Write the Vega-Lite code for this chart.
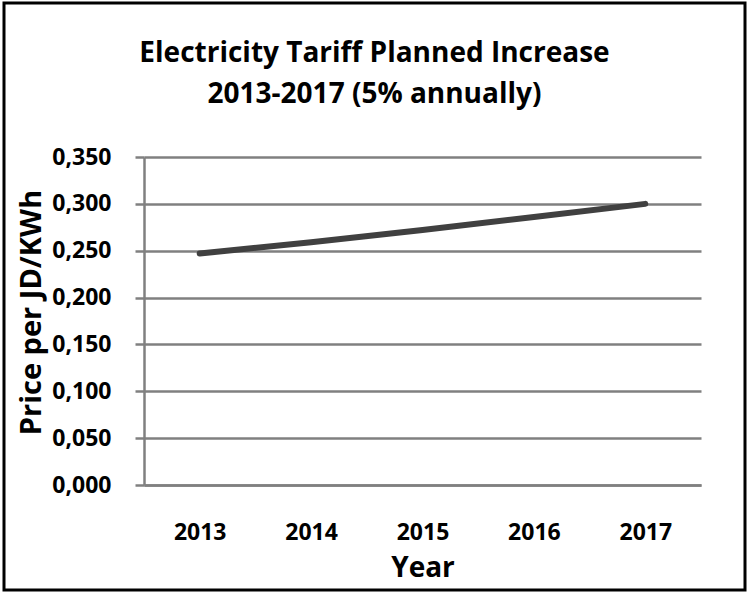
{
  "$schema": "https://vega.github.io/schema/vega-lite/v6.json",
  "autosize": {"type": "none"},
  "width": 741,
  "height": 587,
  "padding": {"left": 4, "top": 3, "right": 3, "bottom": 2},
  "background": "white",
  "title": {
    "text": ["Electricity Tariff Planned Increase", "2013-2017 (5% annually)"],
    "font": "Open Sans",
    "fontWeight": "bold",
    "fontSize": 28,
    "lineHeight": 41,
    "color": "black",
    "anchor": "middle",
    "baseline": "bottom",
    "offset": -134
  },
  "data": {
    "values": [
      {"Year": "2013", "Price": 0.247},
      {"Year": "2014", "Price": 0.259},
      {"Year": "2015", "Price": 0.272},
      {"Year": "2016", "Price": 0.286},
      {"Year": "2017", "Price": 0.300}
    ]
  },
  "mark": {"type": "line", "color": "#404040", "strokeWidth": 6, "strokeCap": "round"},
  "encoding": {
    "x": {
      "field": "Year",
      "type": "ordinal",
      "scale": {"type": "point", "padding": 0.5, "range": [140, 697]},
      "axis": {
        "title": "Year",
        "offset": -105,
        "ticks": false,
        "tickSize": 0,
        "grid": false,
        "labelAngle": 0,
        "labelPadding": 36,
        "labelFontSize": 23,
        "titleFontSize": 28,
        "titlePadding": 10
      }
    },
    "y": {
      "field": "Price",
      "type": "quantitative",
      "scale": {"domain": [0, 0.35], "range": [482, 154], "nice": false, "zero": true},
      "axis": {
        "title": "Price per JD/KWh",
        "offset": -140,
        "values": [0, 0.05, 0.1, 0.15, 0.2, 0.25, 0.3, 0.35],
        "format": ".3f",
        "tickSize": 9,
        "labelPadding": 24,
        "labelFontSize": 23,
        "titleFontSize": 29,
        "titleY": 309,
        "titlePadding": 5
      }
    }
  },
  "config": {
    "locale": {"number": {"decimal": ",", "thousands": ".", "grouping": [3], "currency": ["", ""]}},
    "view": {"stroke": "black", "strokeWidth": 3},
    "axis": {
      "domainColor": "#808080",
      "domainWidth": 2.5,
      "gridColor": "#808080",
      "gridWidth": 2.5,
      "gridOpacity": 1,
      "tickColor": "#808080",
      "tickWidth": 2.5,
      "labelFont": "Open Sans",
      "labelFontWeight": "bold",
      "labelColor": "black",
      "titleFont": "Open Sans",
      "titleFontWeight": "bold",
      "titleColor": "black"
    }
  }
}
